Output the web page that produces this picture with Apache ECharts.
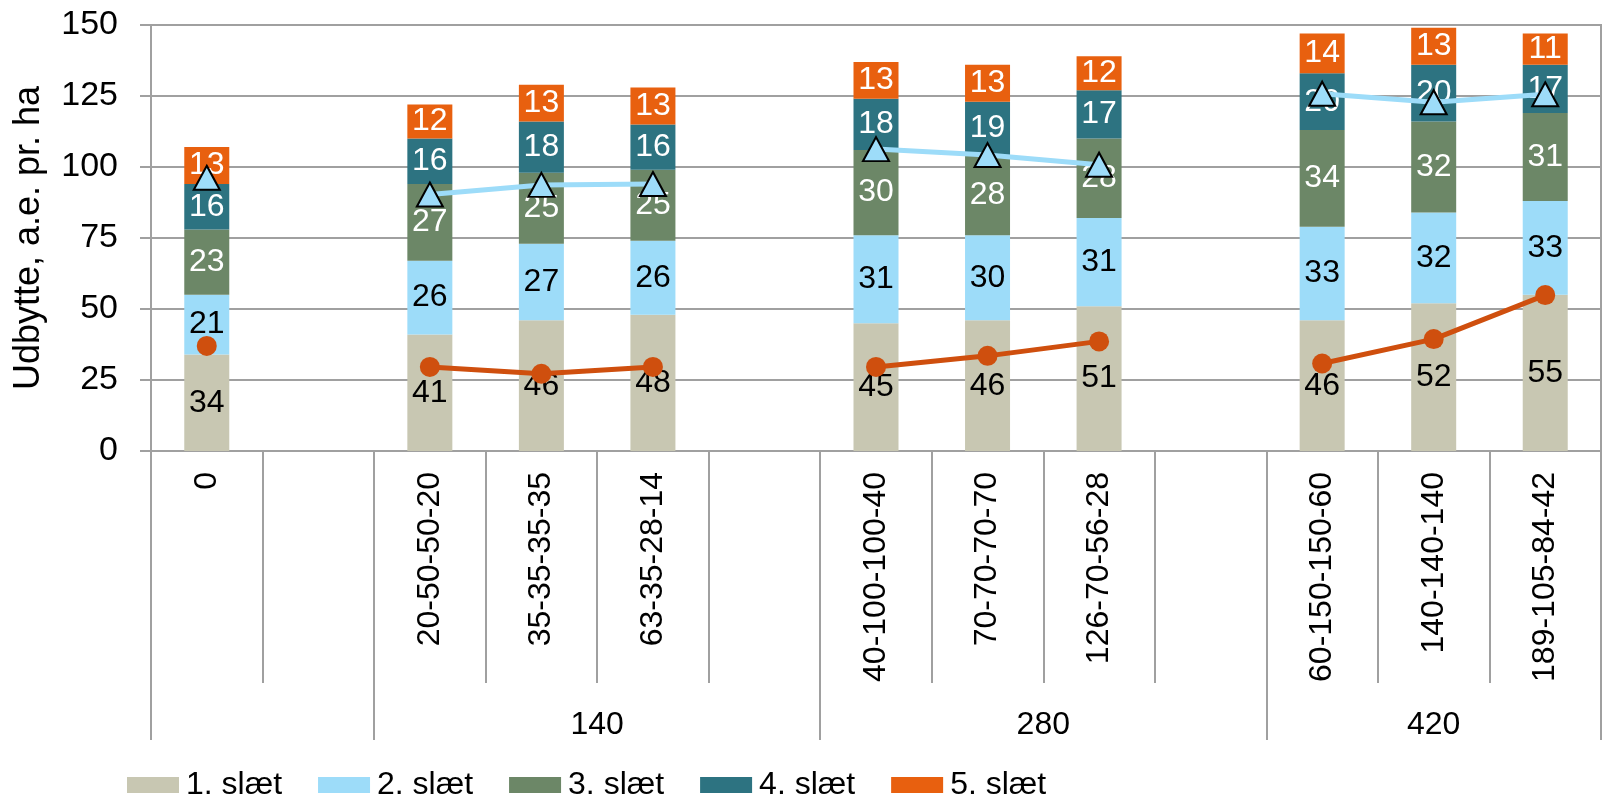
<!DOCTYPE html>
<html>
<head>
<meta charset="utf-8">
<script src="https://cdn.jsdelivr.net/npm/echarts@6/dist/echarts.min.js"></script>
<style>
  html, body { margin: 0; padding: 0; background: #fff; }
  #chart { width: 1603px; height: 798px; }
</style>
</head>
<body>
<div id="chart"></div>
<script>
// Treatments (blank entries separate the N-level groups)
const categories = ['0', '', '20-50-50-20', '35-35-35-35', '63-35-28-14', '',
  '40-100-100-40', '70-70-70-70', '126-70-56-28', '',
  '60-150-150-60', '140-140-140', '189-105-84-42'];

// Group boundaries (category index) and group headings
const groupStarts = [0, 2, 6, 10, 13];
const groupLabels = [{ pos: 4, text: '140' }, { pos: 8, text: '280' }, { pos: 11.5, text: '420' }];

// Yield per cut, a.e. pr. ha
const cut1 = [34, null, 41, 46, 48, null, 45, 46, 51, null, 46, 52, 55];
const cut2 = [21, null, 26, 27, 26, null, 31, 30, 31, null, 33, 32, 33];
const cut3 = [23, null, 27, 25, 25, null, 30, 28, 28, null, 34, 32, 31];
const cut4 = [16, null, 16, 18, 16, null, 18, 19, 17, null, 20, 20, 17];
const cut5 = [13, null, 12, 13, 13, null, 13, 13, 12, null, 14, 13, 11];

// Overlaid point series
const lineOrange = [37, null, 29.6, 27.2, 29.6, null, 29.6, 33.5, 38.6, null, 30.8, 39.4, 54.9];
const lineBlue = [96.2, null, 90.3, 93.7, 94.0, null, 106.3, 104.2, 100.8, null, 125.8, 122.8, 125.6];

const cutNames = ['1. slæt', '2. slæt', '3. slæt', '4. slæt', '5. slæt'];
const cutColors = ['#C8C7B2', '#9DDCF9', '#6C8767', '#2D7381', '#E8600F'];
const labelColors = ['#000', '#000', '#fff', '#fff', '#fff'];
const cutData = [cut1, cut2, cut3, cut4, cut5];

const FONT = "'Liberation Sans', Arial, sans-serif";
const GRAY = '#A0A0A0';

const barSeries = cutData.map((d, i) => ({
  name: cutNames[i],
  type: 'bar',
  stack: 'total',
  barWidth: 45,
  data: d,
  itemStyle: { color: cutColors[i] },
  label: {
    show: true,
    position: 'inside',
    color: labelColors[i],
    fontSize: 32,
    fontFamily: FONT,
    formatter: p => (p.value == null ? '' : String(p.value))
  },
  emphasis: { disabled: true }
}));

const chart = echarts.init(document.getElementById('chart'), null, { renderer: 'canvas' });

chart.setOption({
  animation: false,
  textStyle: { fontFamily: FONT },
  grid: {
    left: 151, right: 2, top: 25, bottom: 347,
    outerBoundsMode: 'none',
    containLabel: false,
    show: true, borderColor: GRAY, borderWidth: 2
  },
  legend: {
    data: cutNames,
    left: 127,
    top: 769,
    padding: 0,
    icon: 'rect',
    itemWidth: 52,
    itemHeight: 16,
    itemGap: 36,
    textStyle: { fontSize: 32, color: '#000', fontFamily: FONT, padding: [0, 0, 0, 2] }
  },
  xAxis: [
    {
      type: 'category',
      data: categories,
      axisLine: { show: true, lineStyle: { color: GRAY, width: 2 } },
      axisTick: { show: true, interval: 0, length: 232, lineStyle: { color: GRAY, width: 2 } },
      axisLabel: { interval: 0, rotate: 90, fontSize: 32, margin: 21, color: '#000', fontFamily: FONT },
      splitLine: { show: false }
    },
    {
      type: 'value',
      min: 0,
      max: categories.length,
      position: 'bottom',
      axisLine: { show: false },
      axisTick: {
        show: true, length: 289, customValues: groupStarts,
        lineStyle: { color: GRAY, width: 2 }
      },
      axisLabel: {
        customValues: groupLabels.map(g => g.pos),
        formatter: v => {
          const g = groupLabels.find(x => Math.abs(x.pos - v) < 1e-6);
          return g ? g.text : '';
        },
        fontSize: 32, lineHeight: 32, margin: 258, color: '#000', fontFamily: FONT
      },
      splitLine: { show: false }
    }
  ],
  yAxis: {
    type: 'value',
    min: 0,
    max: 150,
    interval: 25,
    name: 'Udbytte, a.e. pr. ha',
    nameLocation: 'middle',
    nameGap: 104,
    nameTextStyle: { fontSize: 36, color: '#000', fontFamily: FONT },
    axisLine: { show: true, lineStyle: { color: GRAY, width: 2 } },
    axisTick: { show: true, length: 11, lineStyle: { color: GRAY, width: 2 } },
    axisLabel: { fontSize: 34, margin: 33, color: '#000', fontFamily: FONT },
    splitLine: { show: true, lineStyle: { color: GRAY, width: 2 } }
  },
  series: [
    ...barSeries,
    {
      name: 'linjeOrange',
      type: 'line',
      data: lineOrange,
      connectNulls: false,
      symbol: 'circle',
      symbolSize: 20,
      lineStyle: { color: '#CF4F0E', width: 5 },
      itemStyle: { color: '#CF4F0E' },
      emphasis: { disabled: true }
    },
    {
      name: 'linjeBlaa',
      type: 'line',
      data: lineBlue,
      connectNulls: false,
      symbol: 'triangle',
      symbolSize: [26, 24],
      lineStyle: { color: '#9DDCF9', width: 5 },
      itemStyle: { color: '#9DDCF9', borderColor: '#000', borderWidth: 2 },
      emphasis: { disabled: true }
    }
  ]
});
</script>
</body>
</html>
